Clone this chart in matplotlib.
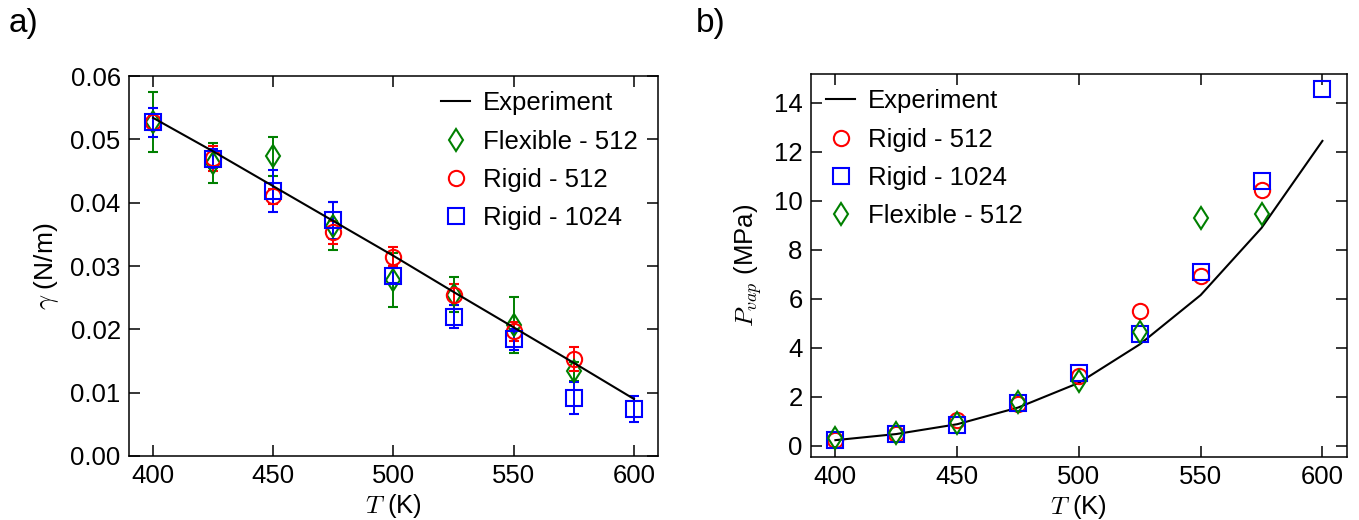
import matplotlib
matplotlib.use("Agg")
import matplotlib.pyplot as plt
from matplotlib.lines import Line2D

plt.rcParams['font.family'] = ['Liberation Sans', 'DejaVu Sans']
plt.rcParams['mathtext.fontset'] = 'cm'

# ---- surface tension (panel a) ----
T_exp = [400, 425, 450, 475, 500, 525, 550, 575, 600]
gamma_exp = [0.0534, 0.0481, 0.0426, 0.0371, 0.0316, 0.0259, 0.0203, 0.0147, 0.0090]

T_sim = [400, 425, 450, 475, 500, 525, 550, 575]
T_sim_1024 = [400, 425, 450, 475, 500, 525, 550, 575, 600]

gamma_flex512 = [0.0527, 0.0463, 0.0473, 0.0363, 0.0278, 0.0255, 0.0207, 0.0134]
gamma_flex512_err = [0.0047, 0.0032, 0.0031, 0.0038, 0.0042, 0.0027, 0.0044, 0.0015]

gamma_rigid512 = [0.0527, 0.0470, 0.0410, 0.0353, 0.0315, 0.0255, 0.0197, 0.0153]
gamma_rigid512_err = [0.0012, 0.0020, 0.0012, 0.0018, 0.0015, 0.0017, 0.0015, 0.0019]

gamma_rigid1024 = [0.0527, 0.0469, 0.0418, 0.0372, 0.0285, 0.0220, 0.0184, 0.0092, 0.0074]
gamma_rigid1024_err = [0.0023, 0.0015, 0.0033, 0.0029, 0.0012, 0.0018, 0.0017, 0.0025, 0.0021]

# ---- vapour pressure (panel b) ----
P_exp = [0.23, 0.48, 0.88, 1.56, 2.57, 4.14, 6.15, 8.89, 12.44]
P_rigid512 = [0.24, 0.48, 1.04, 1.72, 2.85, 5.48, 6.94, 10.43]
P_rigid1024 = [0.24, 0.50, 0.85, 1.76, 2.97, 4.57, 7.11, 10.80, 14.54]
P_flex512 = [0.30, 0.51, 0.95, 1.79, 2.64, 4.66, 9.30, 9.47]

GREEN = '#008000'
RED = '#ff0000'
BLUE = '#0000ff'
FS = 18.5
MS_SQ = 11
MS_CI = 11
MS_DI = 11.5
MEW = 1.5

fig = plt.figure(figsize=(13.59, 5.20), dpi=100)
axa = fig.add_axes([0.0949, 0.1231, 0.3893, 0.7307])
axb = fig.add_axes([0.5968, 0.1210, 0.3942, 0.7367])

err_kw = dict(linestyle='none', mfc='none', capsize=3.6, elinewidth=1.4,
              capthick=1.4, mew=MEW)

axa.plot(T_exp, gamma_exp, color='black', lw=1.5, zorder=5)
axa.errorbar(T_sim, gamma_flex512, yerr=gamma_flex512_err, marker='d', ms=MS_DI,
             color=GREEN, **err_kw)
axa.errorbar(T_sim, gamma_rigid512, yerr=gamma_rigid512_err, marker='o', ms=MS_CI,
             color=RED, **err_kw)
axa.errorbar(T_sim_1024, gamma_rigid1024, yerr=gamma_rigid1024_err, marker='s', ms=MS_SQ,
             color=BLUE, **err_kw)

axb.plot(T_exp, P_exp, color='black', lw=1.5, zorder=1)
axb.plot(T_sim, P_rigid512, linestyle='none', marker='o', ms=MS_CI, mfc='none',
         mew=MEW, color=RED)
axb.plot(T_sim_1024, P_rigid1024, linestyle='none', marker='s', ms=MS_SQ, mfc='none',
         mew=MEW, color=BLUE)
axb.plot(T_sim, P_flex512, linestyle='none', marker='d', ms=MS_DI, mfc='none',
         mew=MEW, color=GREEN)


def handle(marker=None, color='black', ms=11):
    if marker is None:
        return Line2D([], [], color=color, lw=1.5)
    return Line2D([], [], linestyle='none', marker=marker, ms=ms, mfc='none',
                  mew=MEW, color=color)


h_exp = handle()
h_flex = handle('d', GREEN, MS_DI)
h_r512 = handle('o', RED, MS_CI)
h_r1024 = handle('s', BLUE, MS_SQ)

for ax in (axa, axb):
    ax.set_xlim(390, 610)
    ax.set_xticks([400, 450, 500, 550, 600])
    ax.tick_params(direction='in', length=8, width=1.1, labelsize=FS, pad=6.0,
                   top=True, right=True)
    for s in ax.spines.values():
        s.set_linewidth(1.1)
    ax.set_xlabel(r'$T$ (K)', fontsize=FS)
    ax.xaxis.set_label_coords(0.5, -0.095)

axa.set_ylim(0, 0.06)
axa.set_yticks([0.00, 0.01, 0.02, 0.03, 0.04, 0.05, 0.06])
axa.set_yticklabels(['0.00', '0.01', '0.02', '0.03', '0.04', '0.05', '0.06'])
axa.set_ylabel(r'$\gamma$ (N/m)', fontsize=19)
axa.yaxis.set_label_coords(-0.128, 0.5)

axb.set_ylim(-0.46, 15.17)
axb.set_yticks(range(0, 15, 2))
axb.set_ylabel(r'$P_{vap}$ (MPa)', fontsize=FS)
axb.yaxis.set_label_coords(-0.088, 0.5)

leg_kw = dict(frameon=False, fontsize=FS, handlelength=1.1, handletextpad=0.5,
              labelspacing=0.55, borderpad=0.3, borderaxespad=0.3)
axa.legend([h_exp, h_flex, h_r512, h_r1024],
           ['Experiment', 'Flexible - 512', 'Rigid - 512', 'Rigid - 1024'],
           loc='upper right', bbox_to_anchor=(0.99, 1.0), **leg_kw)
axb.legend([h_exp, h_r512, h_r1024, h_flex],
           ['Experiment', 'Rigid - 512', 'Rigid - 1024', 'Flexible - 512'],
           loc='upper left', bbox_to_anchor=(0.0, 1.0), **leg_kw)

fig.text(0.006, 0.985, 'a)', fontsize=24, va='top', ha='left')
fig.text(0.512, 0.985, 'b)', fontsize=24, va='top', ha='left')

fig.savefig('out.png', dpi=100)
